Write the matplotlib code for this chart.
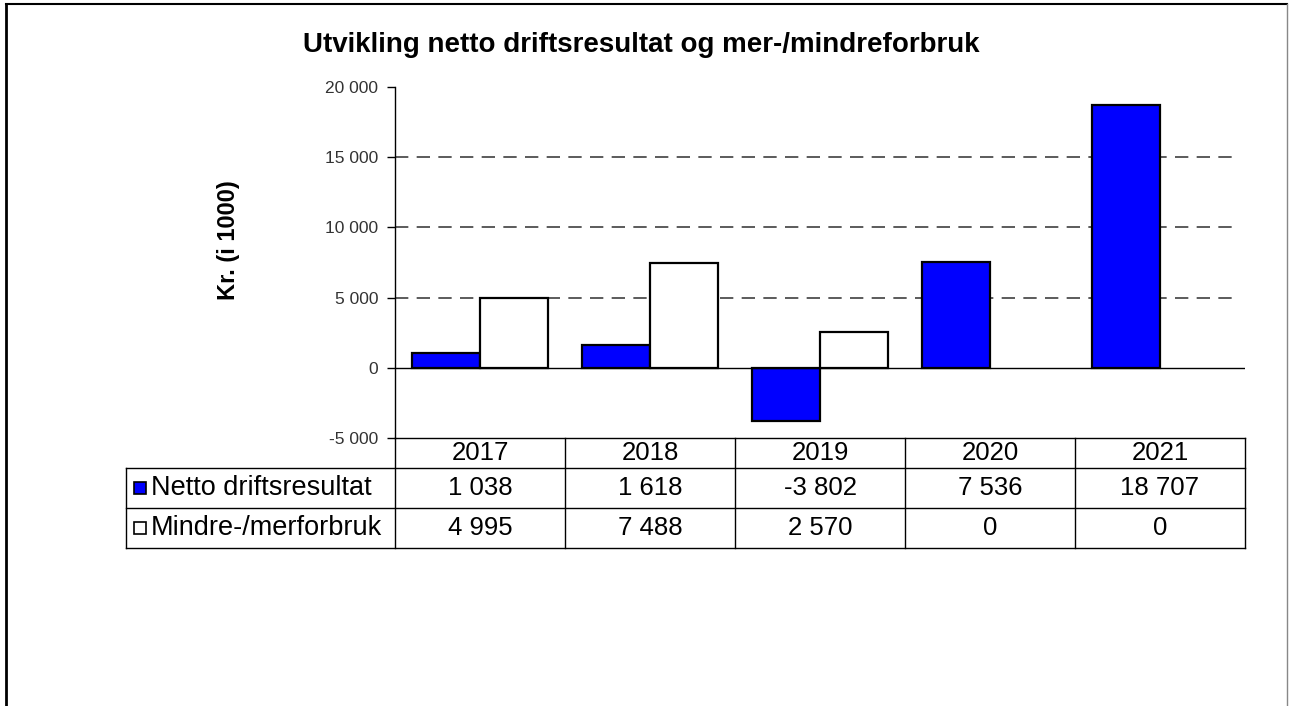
import matplotlib.pyplot as plt
from matplotlib.lines import Line2D
from matplotlib.patches import Rectangle
import numpy as np

plt.rcParams['font.family'] = ['Liberation Sans', 'DejaVu Sans']

aar = ['2017', '2018', '2019', '2020', '2021']
netto = [1038, 1618, -3802, 7536, 18707]
forbruk = [4995, 7488, 2570, 0, 0]
serier = ['Netto driftsresultat', 'Mindre-/merforbruk']
farger = ['#0000ff', '#ffffff']


def fmt(v):
    return f'{v:,.0f}'.replace(',', ' ')


W, H = 1291, 706
fig = plt.figure(figsize=(W / 100, H / 100), dpi=100)

# ramme rundt diagrammet
fig.add_artist(Line2D([6 / W, 6 / W], [0, 1 - 4 / H], color='black', lw=2))
fig.add_artist(Line2D([6 / W, 1287 / W], [1 - 4 / H, 1 - 4 / H], color='black', lw=1.5))
fig.add_artist(Line2D([1287 / W, 1287 / W], [0, 1 - 4 / H], color='#888888', lw=1))

x0, x1, y0, y1 = 395, 1245, 87, 438
ax = fig.add_axes([x0 / W, 1 - y1 / H, (x1 - x0) / W, (y1 - y0) / H])

x = np.arange(len(aar))
b = 0.4
ax.bar(x - b / 2, netto, b, color=farger[0], edgecolor='black',
       linewidth=[1.6 if v else 0 for v in netto], zorder=3)
ax.bar(x + b / 2, forbruk, b, color=farger[1], edgecolor='black',
       linewidth=[1.6 if v else 0 for v in forbruk], zorder=3)

ax.set_xlim(-0.5, len(aar) - 0.5)
ax.set_ylim(-5000, 20000)
ticks = np.arange(-5000, 20001, 5000)
ax.set_yticks(ticks)
ax.set_yticklabels([fmt(t) for t in ticks], fontsize=12.5, color='#333333')
ax.tick_params(axis='y', length=6, width=1, direction='out', pad=6)
ax.set_xticks([])
for t in [5000, 10000, 15000]:
    ax.axhline(t, xmin=0, xmax=0.993, color='#404040', lw=1.2, dashes=(8, 5), zorder=1)
ax.axhline(0, color='black', lw=1, zorder=4)
ax.spines['top'].set_visible(False)
ax.spines['right'].set_visible(False)
ax.spines['left'].set_linewidth(1)
ax.spines['bottom'].set_linewidth(1)

fig.text(229 / W, 1 - 240 / H, 'Kr. (i 1000)', rotation=90, ha='center', va='center',
         fontsize=17, fontweight='bold')
fig.text(641 / W, 1 - 45 / H, 'Utvikling netto driftsresultat og mer-/mindreforbruk',
         ha='center', va='center', fontsize=20, fontweight='bold')

# datatabell under aksen
hoyde = y1 - y0
r_top = 0
r1 = -(468 - y1) / hoyde
r2 = -(508 - y1) / hoyde
r3 = -(548 - y1) / hoyde
lab_left = -(x0 - 126) / (x1 - x0)

tr = ax.get_xaxis_transform()
kw = dict(color='black', lw=1, clip_on=False)
for i in range(len(aar) + 1):
    ax.plot([i - 0.5, i - 0.5], [r_top, r3], transform=tr, **kw)
for r in [r1, r2, r3]:
    ax.plot([lab_left, 1], [r, r], transform=ax.transAxes, **kw)
ax.plot([lab_left, lab_left], [r1, r3], transform=ax.transAxes, **kw)

fs = 18.5
for i, a in enumerate(aar):
    ax.text(i, (r_top + r1) / 2, a, transform=tr, ha='center', va='center', fontsize=fs)
    ax.text(i, (r1 + r2) / 2, fmt(netto[i]), transform=tr, ha='center', va='center', fontsize=fs)
    ax.text(i, (r2 + r3) / 2, fmt(forbruk[i]), transform=tr, ha='center', va='center', fontsize=fs)

sq = 12 / (x1 - x0)
sqh = 12 / hoyde
for j, (navn, r_a, r_b) in enumerate([(serier[0], r1, r2), (serier[1], r2, r3)]):
    midt = (r_a + r_b) / 2
    ax.add_patch(Rectangle((lab_left + 8 / (x1 - x0), midt - sqh / 2), sq, sqh,
                           transform=ax.transAxes, facecolor=farger[j],
                           edgecolor='black', lw=1.2, clip_on=False))
    ax.text(lab_left + 25 / (x1 - x0), midt, navn, transform=ax.transAxes,
            ha='left', va='center', fontsize=19.5)

fig.savefig('out.png', dpi=100)
